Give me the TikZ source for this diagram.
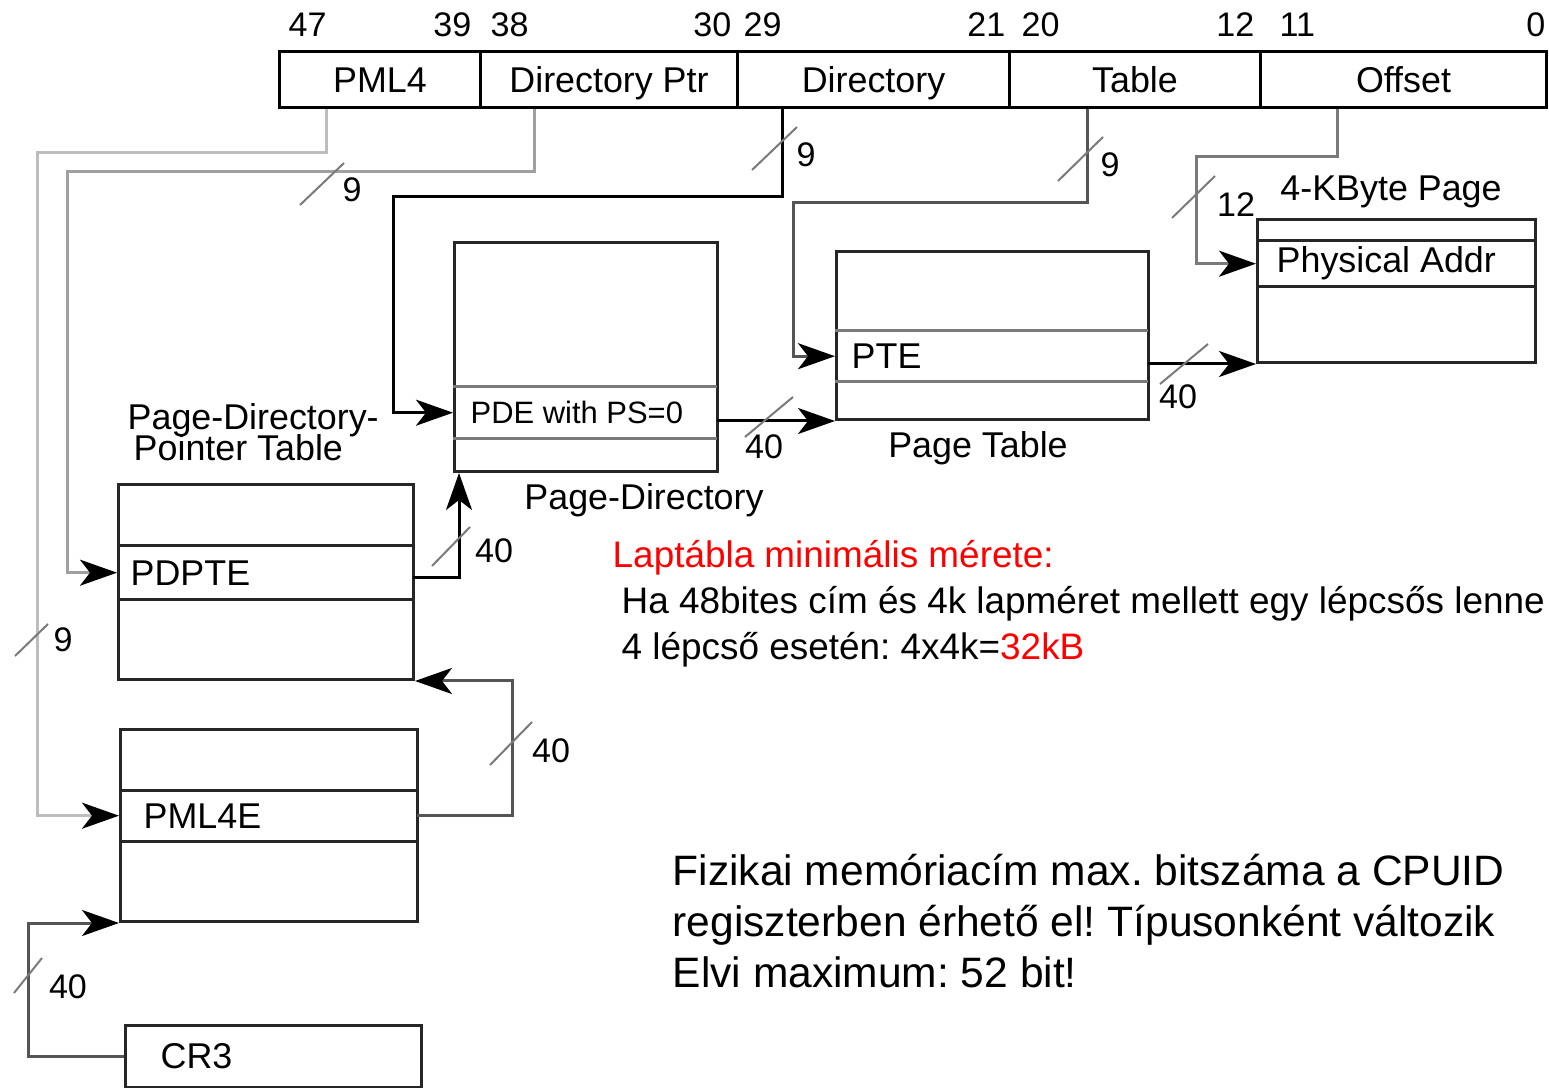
\documentclass[tikz,border=0pt]{standalone}
\usepackage{fontspec}
\setmainfont{Liberation Sans}
\usetikzlibrary{arrows.meta,calc}
\frenchspacing
\definecolor{lnlight}{HTML}{BDBDBD}
\definecolor{lnmid}{HTML}{A0A0A0}
\definecolor{lndark}{HTML}{555555}
\definecolor{lngray}{HTML}{7A7A7A}
\definecolor{notered}{HTML}{FF0000}
\tikzset{
  field/.style={draw,line width=0.3mm,anchor=north west,inner sep=0pt,
                minimum height=5.6mm,text height=2.6mm,text depth=0mm,
                font=\fontsize{10.2}{12}\selectfont},
  tbl/.style={draw=black!85,line width=0.3mm,anchor=north west,inner sep=0pt},
  entry/.style={anchor=north west,inner sep=0pt},
  rowline/.style={draw=black!85,line width=0.3mm},
  etext/.style={anchor=west,inner sep=0pt,font=\fontsize{10.2}{12}\selectfont},
  tblcap/.style={inner sep=0pt,font=\fontsize{10.2}{8.8}\selectfont,
                 execute at begin node=\setlength{\lineskiplimit}{-10pt}},
  bit/.style={inner sep=0pt,font=\fontsize{9.7}{11}\selectfont},
  slash/.style={draw=lngray,line width=0.2mm},
  conn/.style={line width=0.3mm,
               -{Stealth[length=3.7mm,width=2.6mm,inset=1mm,color=black]}},
}

\begin{document}
\begin{tikzpicture}[x=0.1mm,y=-0.1mm]
\clip (0,0) rectangle (1549,1088);
% linear address
\node[field,minimum width=20.1mm] (fpml4) at (278,50)  {PML4};
\node[field,minimum width=25.7mm] (fdptr) at (479,50)  {Directory Ptr};
\node[field,minimum width=27.2mm] (fdir)  at (736,50)  {Directory};
\node[field,minimum width=25.1mm] (ftab)  at (1008,50) {Table};
\node[field,minimum width=28.6mm] (foff)  at (1259,50) {Offset};
\foreach \b/\x/\a in {47/288/west,39/472/east,38/490/west,30/732/east,29/743/west,
                      21/1006/east,20/1021/west,12/1255/east,11/1279/west,0/1546/east}
  \node[bit,anchor=\a] (b\b) at (\x,25) {\b};

% tables
\node[tbl,minimum width=29.5mm,minimum height=19.5mm] (pdpt) at (117,483) {};
\node[entry,minimum width=29.5mm,minimum height=5.2mm] (pdpte) at (117,546) {};
\draw[rowline] (pdpte.north west) -- (pdpte.north east) (pdpte.south west) -- (pdpte.south east);
\node[etext] (pdptet) at ([xshift=1.3mm]pdpte.west) {PDPTE};

\node[tbl,minimum width=29.7mm,minimum height=19.2mm] (pml4t) at (119,728) {};
\node[entry,minimum width=29.7mm,minimum height=5mm] (pml4e) at (119,790) {};
\draw[rowline] (pml4e.north west) -- (pml4e.north east) (pml4e.south west) -- (pml4e.south east);
\node[etext] (pml4et) at ([xshift=2.4mm]pml4e.west) {PML4E};

\node[tbl,minimum width=26.3mm,minimum height=22.9mm] (pd) at (453,241) {};
\node[entry,minimum width=26.3mm,minimum height=5mm] (pde) at (453,387) {};
\draw[rowline,draw=lngray] (pde.north west) -- (pde.north east) (pde.south west) -- (pde.south east);
\node[etext,font=\fontsize{8.8}{10}\selectfont] (pdet) at ([xshift=1.7mm]pde.west) {PDE with PS=0};

\node[tbl,minimum width=31.2mm,minimum height=16.8mm] (pt) at (835,250) {};
\node[entry,minimum width=31.2mm,minimum height=4.9mm] (pte) at (835,331) {};
\draw[rowline,draw=lngray] (pte.north west) -- (pte.north east) (pte.south west) -- (pte.south east);
\node[etext] (ptet) at ([xshift=1.6mm]pte.west) {PTE};

\node[tbl,minimum width=27.8mm,minimum height=14.3mm] (pg) at (1256,218) {};
\node[entry,minimum width=27.8mm,minimum height=4.4mm] (phys) at (1256,241) {};
\draw[rowline] (phys.north west) -- (phys.north east) (phys.south west) -- (phys.south east);
\node[etext] (physt) at ([xshift=2mm]phys.west) {Physical Addr};

\node[tbl,minimum width=29.6mm,minimum height=6.2mm] (cr3) at (124,1024) {};
\node[etext] (cr3t) at ([xshift=3.6mm]cr3.west) {CR3};

% captions
\node[tblcap,anchor=west,align=left] (pdptcap) at (127,432) {Page-Directory-\\\hspace*{0.6mm}Pointer Table};
\node[tblcap] (pdcap) at (644,500) {Page-Directory};
\node[tblcap] (ptcap) at (978,448) {Page Table};
\node[tblcap] (pgcap) at (1391,192) {4-KByte Page};

% index bits
\draw[conn,draw=lnlight] ([xshift=4.8mm]fpml4.south west) |- (37,153) |- (pml4e.west);
\draw[conn,draw=lnmid] ([xshift=5.5mm]fdptr.south west) |- (67,172) |- (pdpte.west);
\draw[conn] ([xshift=4.6mm]fdir.south west) |- (393,197) |- (pde.west);
\draw[conn,draw=lndark] ([xshift=7.9mm]ftab.south west) |- (793,203) |- (pte.west);
\draw[conn,draw=lngray] ([xshift=7.8mm]foff.south west) |- (1196,157) |- (phys.west);

% table addresses
\draw[conn] (pde.east |- pt.south west) -- (pt.south west);
\draw[conn] (pte.east |- pg.south west) -- (pg.south west);
\draw[conn] ([yshift=-0.5mm]pdpte.east) -| ([xshift=0.6mm]pd.south west);
\draw[conn,draw=lndark] (pml4e.east) -- ++(95,0) |- (pdpt.south east);
\draw[conn,draw=lndark] (cr3.west) -- ++(-96,0) |- (pml4t.south west);

% widths
\draw[slash] (15,656) -- (48,624);   \node[bit] (w1) at (63,640) {9};
\draw[slash] (300,205) -- (344,163); \node[bit] (w2) at (352,190) {9};
\draw[slash] (752,170) -- (797,127); \node[bit] (w3) at (806,155) {9};
\draw[slash] (1058,181) -- (1103,137); \node[bit] (w4) at (1110,165) {9};
\draw[slash] (1172,218) -- (1215,176); \node[bit] (w5) at (1236,205) {12};
\draw[slash] (745,437) -- (793,397); \node[bit] (w6) at (764,447) {40};
\draw[slash] (1160,384) -- (1208,344); \node[bit] (w7) at (1178,397) {40};
\draw[slash] (432,566) -- (470,527); \node[bit] (w8) at (494,551) {40};
\draw[slash] (490,765) -- (532,722); \node[bit] (w9) at (551,751) {40};
\draw[slash] (14,993) -- (42,958);   \node[bit] (w10) at (68,987) {40};

% notes
\node[anchor=west,align=left,inner sep=0pt,font=\fontsize{10.5}{13.1}\selectfont] (note) at (612,604)
  {\textcolor{notered}{Laptábla minimális mérete:}\\
   \hspace*{0.9mm}Ha 48bites cím és 4k lapméret mellett egy lépcsős lenne\\
   \hspace*{0.9mm}4 lépcső esetén: 4x4k=\textcolor{notered}{32kB}};
\node[anchor=west,align=left,inner sep=0pt,font=\fontsize{12.1}{14.5}\selectfont] (cpuid) at (672,921)
  {Fizikai memóriacím max. bitszáma a CPUID\\
   regiszterben érhető el! Típusonként változik\\
   Elvi maximum: 52 bit!};
\end{tikzpicture}
\end{document}
